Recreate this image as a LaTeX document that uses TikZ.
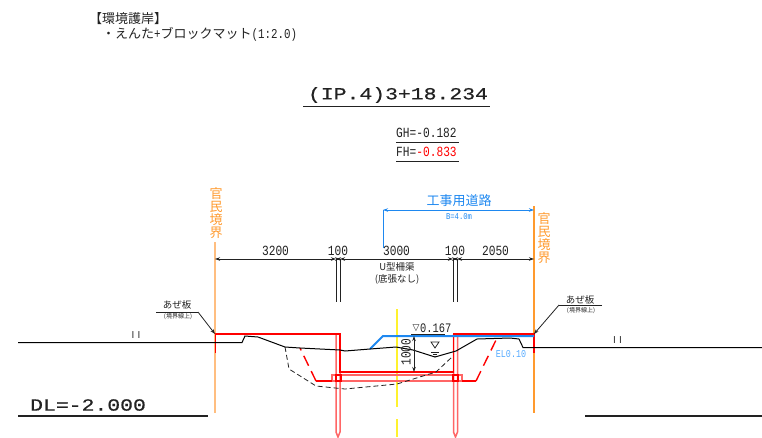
\documentclass[tikz,border=0pt]{standalone}
\usepackage{fontspec}
\usetikzlibrary{arrows.meta}
\newfontfamily\jpfont{Noto Sans CJK JP}
\newfontfamily\hwfont[FakeStretch=0.8]{Liberation Mono}
\newfontfamily\widefont[FakeStretch=1.26, FakeBold=0.6]{Liberation Mono}
\definecolor{kyokai}{HTML}{FF9A2E}
\definecolor{kyokaip}{HTML}{FFBE80}
\definecolor{doro}{HTML}{1E88F0}
\definecolor{elblue}{HTML}{55AAFF}
\definecolor{sen}{HTML}{222222}
\definecolor{jiku}{HTML}{FFF22E}
\tikzset{
	jp/.style={font=\jpfont\fontsize{#1}{#1}\selectfont, inner sep=0pt, text=sen},
	hw/.style={font=\hwfont\fontsize{#1}{#1}\selectfont, inner sep=0pt, text=sen},
	wide/.style={font=\widefont\fontsize{17}{17}\selectfont, inner sep=0pt, text=sen},
	tate/.style={jp=13, text=kyokai, align=center},
	ground/.style={black, line width=1pt},
	plan/.style={red, line width=1.8pt},
	pile/.style={red!60, line width=1.5pt},
	tip/.style={sen, line width=0.8pt, {Stealth[length=5pt,width=3.5pt]}-{Stealth[length=5pt,width=3.5pt]}},
	bluetip/.style={doro, line width=0.8pt, {Stealth[length=5pt,width=3.5pt]}-{Stealth[length=5pt,width=3.5pt]}}
}
\begin{document}
\begin{tikzpicture}[x=1pt, y=-1pt]

	\useasboundingbox (0,0) rectangle (762,437);

	% 1. Textos superiores
	\node[jp=13, anchor=west] (title) at (89,18.5) {【環境護岸】};
	\node[jp=13, anchor=west] (kind) at (102,34.5) {・えんた{\hwfont\fontsize{13.5}{13.5}\selectfont +}ブロックマット{\hwfont\fontsize{13.5}{13.5}\selectfont (1:2.0)}};
	\node[wide, anchor=center] (ip) at (398,95) {(IP.4)3+18.234};
	\draw[sen, line width=1.5pt] (303,106.5) -- (490,106.5);
	\node[hw=14, anchor=west] (gh) at (396,133) {GH=-0.182};
	\draw[sen, line width=0.8pt] (396,142) -- (459,142);
	\node[hw=14, anchor=west] (fh) at (396,152) {FH=\textcolor{red}{-0.833}};
	\draw[sen, line width=0.8pt] (396,161) -- (459,161);

	% 2. Linderos
	\node[tate] (kanL) at (216,213) {官\\民\\境\\界};
	\node[tate] (kanR) at (544,238) {官\\民\\境\\界};
	\draw[kyokaip, line width=1.5pt] (215,242) -- (215,413);
	\draw[kyokai, line width=1.1pt] (534,206) -- (534,413);

	% 3. Camino de obra
	\node[jp=13, text=doro] (koji) at (459,201) {工事用道路};
	\node[hw=9, text=doro] (width) at (459,217) {B=4.0m};
	\draw[doro, line width=1pt] (383,210) -- (383,248);
	\draw[bluetip] (383,210) -- (534,210);

	% 4. Cotas
	\coordinate (d0) at (215,259);
	\coordinate (d1) at (336,259);
	\coordinate (d2) at (340,259);
	\coordinate (d3) at (453,259);
	\coordinate (d4) at (457,259);
	\coordinate (d5) at (534,259);
	\draw[tip] (d0) -- node[hw=14, above=3pt] {3200} (d1);
	\draw[tip] (d1) -- node[hw=14, above=3pt] {100} (d2);
	\draw[tip] (d2) -- node[hw=14, above=3pt, pos=0.5] (w) {3000} (d3);
	\draw[tip] (d3) -- node[hw=14, above=3pt] {100} (d4);
	\draw[tip] (d4) -- node[hw=14, above=3pt] {2050} (d5);
	\node[jp=9.5] (ugata) at (397,267) {U型柵渠};
	\node[jp=9.5] (nashi) at (397,279) {(底張なし)};
	\foreach \px in {336,340,453,457}
		\draw[sen, line width=0.9pt] (\px,259) -- (\px,302);

	% 5. Eje
	\draw[jiku, line width=1.1pt, dash pattern=on 98pt off 12pt] (397,309) -- (397,437);

	% 6. Tablestacas y planta
	\foreach \px in {336,453.5}
		\draw[pile] (\px,334) -- (\px,432) -- (\px+2,437) -- (\px+4,432) -- (\px+4,334);
	\draw[pile] (332,375) rectangle (462,381);
	\draw[plan, line width=1.4pt] (336,375) rectangle (341,381);
	\draw[plan, line width=1.4pt] (453,375) rectangle (458,381);
	\draw[plan] (215.5,353) -- (215.5,334) -- (340,334) -- (340,372) -- (453.5,372) -- (453.5,334) -- (534,334) -- (534,353);
	\draw[red, line width=1.4pt] (332,381) -- (316,381);
	\draw[red, line width=1.4pt] (462,381) -- (476,381);
	\draw[red, line width=1.4pt, dash pattern=on 11pt off 6pt] (316,381) -- (300,348);
	\draw[red, line width=1.4pt, dash pattern=on 11pt off 6pt] (476,381) -- (497,338);

	% 7. Camino azul
	\draw[doro, line width=2pt] (370,349) -- (383,336) -- (534,336);

	% 8. Terreno
	\draw[ground] (18,342.5) -- (242,342.5) -- (245,336) -- (258,337) -- (285,347) -- (300,348) -- (340,350) -- (345,351) -- (370,349) -- (396,347) -- (413,350) -- (435,357) -- (456,351) -- (477,339) -- (510,338) -- (519,339) -- (523,347.5) -- (762,347.5);
	\draw[sen, line width=0.8pt, dash pattern=on 5pt off 3pt] (285,347) -- (289,369) -- (316,386) -- (345,389) -- (397,384) -- (436,372) -- (452,357);
	\node[font=\fontfamily{lmss}\fontsize{10}{10}\selectfont, text=sen, inner sep=0pt] (iiL) at (136,335) {I\kern3pt I};
	\node[font=\fontfamily{lmss}\fontsize{10}{10}\selectfont, text=sen, inner sep=0pt] (iiR) at (617.5,340.5) {I\kern3pt I};

	% 9. Nivel de agua
	\node[hw=13, anchor=west] (lev) at (420,328) {0.167};
	\node[font=\fontspec{DejaVu Sans}\fontsize{9}{9}\selectfont, text=sen, inner sep=0pt] (levm) at (416,328) {▽};
	\draw[sen, line width=0.8pt] (411,334) -- (445,334);
	\coordinate (a1) at (414,336);
	\coordinate (a2) at (414,372);
	\draw[tip] (a1) -- (a2);
	\node[hw=14, rotate=90] (sen1000) at (406,352) {1000};
	\draw[sen, line width=0.8pt] (431,342) -- (439,342) -- (435,348) -- cycle;
	\draw[sen, line width=0.8pt] (431,352) -- (439,352);
	\draw[sen, line width=0.8pt] (433,354) -- (437,354);
	\draw[sen, line width=0.8pt] (434,356) -- (436,356);
	\node[hw=10.5, text=elblue] (el) at (511,354) {EL0.10};

	% 10. Rotulos de chapa
	\node[jp=9.5] (azeL) at (177,305) {あぜ板};
	\node[jp=6] (azeLs) at (178,317) {(境界線上)};
	\coordinate (lL) at (198,312);
	\draw[sen, line width=0.7pt] (156,312) -- (lL);
	\draw[sen, line width=0.8pt, -{Stealth[length=5pt,width=3.5pt]}] (lL) -- (215,334);
	\node[jp=9.5] (azeR) at (580,300) {あぜ板};
	\node[jp=6] (azeRs) at (581,311) {(境界線上)};
	\coordinate (lR) at (559,305);
	\draw[sen, line width=0.7pt] (602,305) -- (lR);
	\draw[sen, line width=0.8pt, -{Stealth[length=5pt,width=3.5pt]}] (lR) -- (534,334);

	% 11. Plano de referencia
	\node[wide, anchor=west] (dl) at (30,405) {DL=-2.000};
	\draw[sen, line width=1.8pt] (18,415.7) -- (208,415.7);
	\draw[sen, line width=1.8pt] (585,415.7) -- (762,415.7);

\end{tikzpicture}
\end{document}
